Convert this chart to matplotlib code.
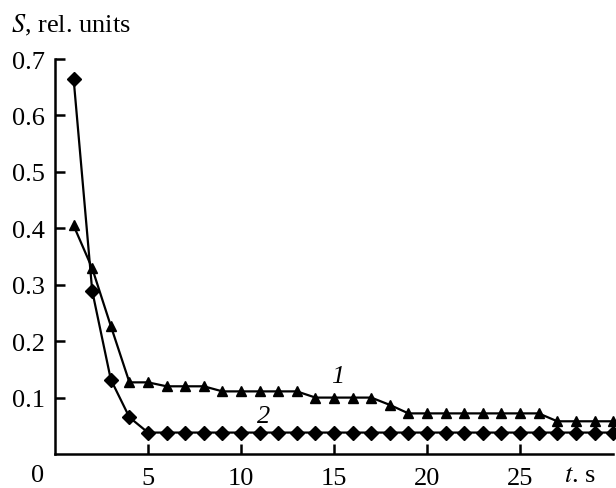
"""Decay of S over time for two curves."""

import matplotlib
matplotlib.use("Agg")
import matplotlib.pyplot as plt

plt.rcParams["font.family"] = ["Liberation Serif", "DejaVu Serif"]
plt.rcParams["mathtext.fontset"] = "stix"

t = list(range(1, 31))

# curve 1 (triangles)
s1 = [0.405, 0.329, 0.227, 0.127, 0.127, 0.12, 0.12, 0.12, 0.111, 0.111,
      0.111, 0.111, 0.111, 0.1, 0.1, 0.1, 0.1, 0.087, 0.072, 0.072,
      0.072, 0.072, 0.072, 0.072, 0.072, 0.072, 0.058, 0.058, 0.058, 0.058]

# curve 2 (diamonds)
s2 = [0.665, 0.289, 0.132, 0.065, 0.038, 0.038, 0.038, 0.038, 0.038, 0.038,
      0.038, 0.038, 0.038, 0.038, 0.038, 0.038, 0.038, 0.038, 0.038, 0.038,
      0.038, 0.038, 0.038, 0.038, 0.038, 0.038, 0.038, 0.038, 0.038, 0.038]

x_ticks = [5, 10, 15, 20, 25]
y_ticks = [0.1, 0.2, 0.3, 0.4, 0.5, 0.6, 0.7]

FS = 19

fig = plt.figure(figsize=(6.16, 4.89), dpi=100)
ax = fig.add_axes([0.0893, 0.0695, 0.906, 0.8077])

ax.plot(t, s1, "k-", marker="^", markersize=7.5, lw=1.6, clip_on=False)
ax.plot(t, s2, "k-", marker="D", markersize=7.5, lw=1.6, clip_on=False)

ax.set_xlim(0, 30)
ax.set_ylim(0, 0.7)
ax.set_xticks(x_ticks)
ax.set_yticks(y_ticks)
ax.set_yticklabels([f"{v:.1f}" for v in y_ticks])

for side in ("top", "right"):
    ax.spines[side].set_visible(False)
for side in ("left", "bottom"):
    ax.spines[side].set_linewidth(1.8)

ax.tick_params(direction="in", length=7, width=1.8, labelsize=FS)
ax.tick_params(axis="y", pad=7)
ax.tick_params(axis="x", pad=9)

ax.text(15.2, 0.138, "1", fontsize=FS, style="italic", ha="center", va="center")
ax.text(11.2, 0.067, "2", fontsize=FS, style="italic", ha="center", va="center")

fig.text(38 / 616, 1 - 476 / 489, "0", fontsize=FS, ha="center", va="center")
fig.text(580 / 616, 1 - 476 / 489, r"$t$. s", fontsize=FS, ha="center", va="center")
fig.text(11 / 616, 1 - 25 / 489, r"$S$, rel. units", fontsize=FS, ha="left", va="center")

fig.savefig("out.png", dpi=100)
